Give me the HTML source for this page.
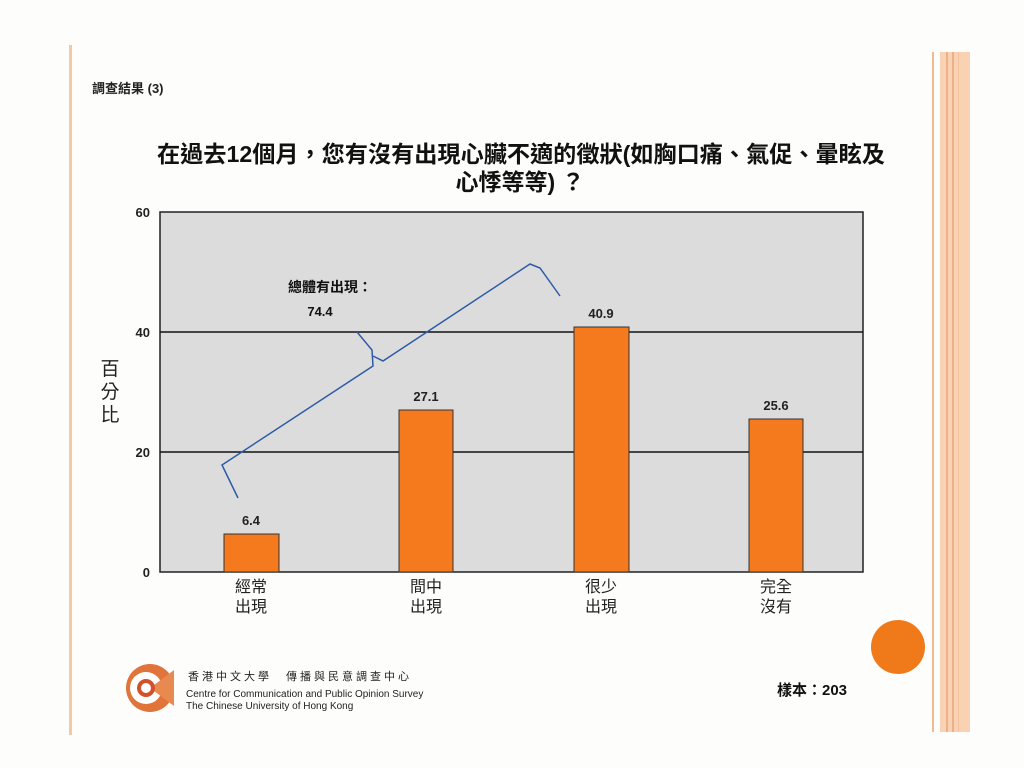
<!DOCTYPE html>
<html><head><meta charset="utf-8"><style>
html,body{margin:0;padding:0;background:#fff;width:1024px;height:768px;overflow:hidden}
svg{display:block}
text{font-family:"Liberation Sans","Noto Sans CJK TC",sans-serif}
</style></head><body>
<svg width="1024" height="768" viewBox="0 0 1024 768">
<rect width="1024" height="768" fill="#fdfdfb"/>
<rect x="69" y="45" width="3" height="690" fill="#f3c9a8"/>
<rect x="932" y="52" width="2" height="680" fill="#f1b990"/>
<rect x="940" y="52" width="30" height="680" fill="#f8d2b2"/>
<rect x="946" y="52" width="2" height="680" fill="#eeb088"/>
<rect x="952" y="52" width="2" height="680" fill="#eeb088"/>
<rect x="958" y="52" width="1" height="680" fill="#f1c09c"/>
<circle cx="898" cy="647" r="27" fill="#f07a1a"/>
<text x="92" y="93" font-size="13" font-weight="bold" fill="#222">調查結果 (3)</text>
<text x="521" y="162" font-size="23" font-weight="bold" text-anchor="middle" fill="#111" textLength="728" lengthAdjust="spacingAndGlyphs">在過去12個月，您有沒有出現心臟不適的徵狀(如胸口痛、氣促、暈眩及</text>
<text x="520" y="190" font-size="23" font-weight="bold" text-anchor="middle" fill="#111">心悸等等) ？</text>
<rect x="160" y="212" width="703" height="360" fill="#dcdcdc" stroke="#222" stroke-width="1.5"/>
<line x1="160" y1="332" x2="863" y2="332" stroke="#111" stroke-width="1.5"/>
<line x1="160" y1="452" x2="863" y2="452" stroke="#111" stroke-width="1.5"/>
<g font-size="13" font-weight="bold" text-anchor="end" fill="#222">
<text x="150" y="217">60</text><text x="150" y="337">40</text><text x="150" y="457">20</text><text x="150" y="577">0</text>
</g>
<g font-size="19" fill="#222" text-anchor="middle"><text x="110" y="375">百</text><text x="110" y="398">分</text><text x="110" y="421">比</text></g>
<g fill="#f57a1e" stroke="#333" stroke-width="1">
<rect x="224" y="534" width="55" height="38"/>
<rect x="399" y="410" width="54" height="162"/>
<rect x="574" y="327" width="55" height="245"/>
<rect x="749" y="419" width="54" height="153"/>
</g>
<g font-size="13" font-weight="bold" text-anchor="middle" fill="#222">
<text x="251" y="525">6.4</text><text x="426" y="401">27.1</text><text x="601" y="318">40.9</text><text x="776" y="410">25.6</text>
</g>
<g font-size="16" text-anchor="middle" fill="#222">
<text x="251" y="592">經常</text><text x="251" y="612">出現</text>
<text x="426" y="592">間中</text><text x="426" y="612">出現</text>
<text x="601" y="592">很少</text><text x="601" y="612">出現</text>
<text x="776" y="592">完全</text><text x="776" y="612">沒有</text>
</g>
<path d="M238 498 L222 465 L373 366 L372 350 L357 332" fill="none" stroke="#2f5aa8" stroke-width="1.5"/>
<path d="M373 356 L383 361 L530 264 L540 268 L560 296" fill="none" stroke="#2f5aa8" stroke-width="1.5"/>
<text x="330" y="292" font-size="14" font-weight="bold" text-anchor="middle" fill="#111">總體有出現：</text>
<text x="320" y="316" font-size="13" font-weight="bold" text-anchor="middle" fill="#111">74.4</text>
<circle cx="150" cy="688" r="24" fill="#e0743a"/>
<circle cx="146" cy="688" r="16" fill="#fff"/>
<path d="M150 688 L174 670 L174 706 Z" fill="#e88a50"/>
<circle cx="146" cy="688" r="9" fill="#d2502a"/>
<circle cx="146" cy="688" r="5" fill="#fff"/>
<text x="188" y="680" font-size="11" fill="#222" letter-spacing="3">香港中文大學　傳播與民意調查中心</text>
<text x="186" y="697" font-size="10" fill="#222">Centre for Communication and Public Opinion Survey</text>
<text x="186" y="709" font-size="10" fill="#222">The Chinese University of Hong Kong</text>
<text x="812" y="695" font-size="15" font-weight="bold" text-anchor="middle" fill="#111">樣本：203</text>
</svg>
</body></html>
